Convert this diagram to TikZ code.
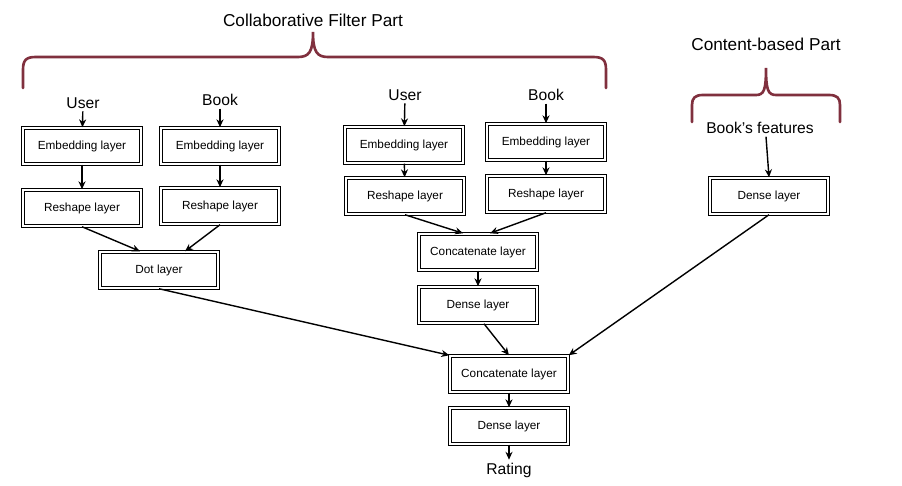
\documentclass[tikz,border=0pt]{standalone}
\usepackage{fontspec}
\setmainfont{Liberation Sans}
\usepackage {tikz}
\usetikzlibrary {positioning}
\usetikzlibrary{arrows.meta}
\definecolor{bracered}{RGB}{128,48,62}
\tikzset{
    layer/.style = {rectangle,draw,double,double distance=0.6pt,line width=0.85pt,fill=white,minimum width=2.36cm,minimum height=0.72cm,inner sep=0pt,font=\fontsize{6.7}{8}\selectfont},
    inp/.style = {inner sep=1.5pt,font=\fontsize{8.9}{10}\selectfont},
    title/.style = {font=\fontsize{9.8}{12}\selectfont},
    arr/.style = {-{Stealth[length=4.5pt,width=4pt]},line width=0.8pt},
    brace/.style = {draw=bracered,line width=1.5pt,line cap=round}}
\begin{document}
\begin{tikzpicture}[x=0.02cm,y=-0.02cm]
        \useasboundingbox (0,0) rectangle (902,486);
        \node[title] (TC) at (313,20) {Collaborative Filter Part};
        \node[title] (TB) at (766,44) {Content-based Part};
        \draw[brace] (23,88) -- (23,70) .. controls (23,60) and (26,57) .. (36,57) -- (298,57) .. controls (309,57) and (313,52) .. (313,32) .. controls (313,52) and (317,57) .. (328,57) -- (593,57) .. controls (603,57) and (606,60) .. (606,70) -- (606,88);
        \draw[brace] (692,122) -- (692,105) .. controls (692,98) and (695,95) .. (703,95) -- (756,95) .. controls (764,95) and (766,90) .. (766,68) .. controls (766,90) and (768,95) .. (776,95) -- (829,95) .. controls (837,95) and (840,98) .. (840,105) -- (840,122);
        \path (83,103) node[inp] (U1) {User}
        ++ (-1,43) node[layer] (EU1) {Embedding layer}
        ++ (0,62) node[layer] (RU1) {Reshape layer};
        \path (220,100) node[inp] (B1) {Book}
        ++ (0,46) node[layer] (EB1) {Embedding layer}
        ++ (0,60) node[layer] (RB1) {Reshape layer};
        \path (159,270) node[layer] (D) {Dot layer};
        \path (405,95) node[inp] (U2) {User}
        ++ (-1,50) node[layer] (EU2) {Embedding layer}
        ++ (1,51) node[layer] (RU2) {Reshape layer};
        \path (546,95) node[inp] (B2) {Book}
        ++ (0,47) node[layer] (EB2) {Embedding layer}
        ++ (0,52) node[layer] (RB2) {Reshape layer};
        \path (478,252) node[layer] (C1) {Concatenate layer}
        ++ (0,53) node[layer] (F1) {Dense layer};
        \path (760,128) node[inp] (BF) {Book’s features}
        ++ (9,68) node[layer] (F2) {Dense layer};
        \path (509,374) node[layer] (C2) {Concatenate layer}
        ++ (0,52) node[layer] (F3) {Dense layer}
        ++ (0,44) node[inp] (Y) {Rating};
        \draw[arr] (U1) -- (EU1);
        \draw[arr] (EU1) -- (RU1);
        \draw[arr] (B1) -- (EB1);
        \draw[arr] (EB1) -- (RB1);
        \draw[arr] (RU1.south) -- ([xshift=-0.38cm]D.north);
        \draw[arr] (RB1.south) -- ([xshift=0.52cm]D.north);
        \draw[arr] (U2) -- (EU2);
        \draw[arr] (EU2) -- (RU2);
        \draw[arr] (B2) -- (EB2);
        \draw[arr] (EB2) -- (RB2);
        \draw[arr] (RU2.south) -- ([xshift=-0.3cm]C1.north);
        \draw[arr] (RB2.south) -- ([xshift=0.24cm]C1.north);
        \draw[arr] (C1) -- (F1);
        \draw[arr] ([xshift=0.12cm]BF.south) -- (F2.north);
        \draw[arr] (D.south) -- (C2.north west);
        \draw[arr] ([xshift=0.12cm]F1.south) -- (C2.north);
        \draw[arr] (F2.south) -- (C2.north east);
        \draw[arr] (C2) -- (F3);
        \draw[arr] (F3) -- (Y);
\end{tikzpicture}
\end{document}
